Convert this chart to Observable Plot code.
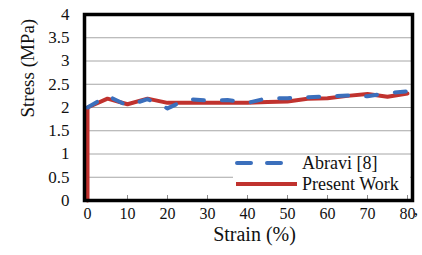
<!DOCTYPE html>
<html>
<head>
<meta charset="utf-8">
<script src="https://cdn.jsdelivr.net/npm/d3@7"></script>
<script src="https://cdn.jsdelivr.net/npm/@observablehq/plot@0.6"></script>
<style>
  html, body { margin: 0; padding: 0; background: white; }
  #wrap { position: relative; width: 422px; height: 255px; font-family: "Liberation Serif", serif; }
  #wrap svg, #wrap svg text { font-family: "Liberation Serif", serif; }
  #legend { position: absolute; left: 233px; top: 155px; width: 177px; height: 40px; background: white; }
  #legend span { position: absolute; font-size: 18px; line-height: 20px; white-space: nowrap; color: #111; }
  #legend svg { position: absolute; left: 0; top: 0; }
  #comma { position: absolute; left: 414px; top: 202px; font-size: 16px; line-height: 16px; }
</style>
</head>
<body>
<div id="wrap"></div>
<script>
// Strain (%) sample points
const strainA = [0, 5, 10, 15, 20, 25, 30, 35, 40, 45, 50, 55, 60, 65, 70, 75, 80];
const strainP = [0, 0, 5, 10, 15, 20, 25, 30, 35, 40, 45, 50, 55, 60, 65, 70, 75, 80];
// Stress (MPa) series
const abravi  = [2.00, 2.25, 2.04, 2.18, 1.98, 2.18, 2.15, 2.16, 2.10, 2.20, 2.20, 2.22, 2.24, 2.26, 2.24, 2.31, 2.35];
const present = [0, 2.00, 2.19, 2.07, 2.19, 2.10, 2.10, 2.10, 2.10, 2.10, 2.12, 2.13, 2.19, 2.20, 2.25, 2.29, 2.23, 2.30];
// Tick values
const xTicks = [0, 10, 20, 30, 40, 50, 60, 70, 80];
const yTicks = [0, 0.5, 1, 1.5, 2, 2.5, 3, 3.5, 4];
const seriesNames = ["Abravi [8]", "Present Work"];
const colors = ["#3b6fbc", "#c0322e"];

const toRows = (xs, vals) => xs.map((s, i) => ({s, v: vals[i]}));
const SERIF = '"Liberation Serif", serif';

const chart = Plot.plot({
  width: 422,
  height: 255,
  marginLeft: 84,
  marginRight: 10,
  marginTop: 14,
  marginBottom: 55,
  style: {background: "white", color: "#111", fontFamily: SERIF},
  x: {domain: [-0.75, 81.25]},
  y: {domain: [0, 4]},
  marks: [
    Plot.gridY(yTicks, {stroke: "#a6a6a6", strokeOpacity: 1, strokeWidth: 1}),
    Plot.axisY(yTicks, {tickSize: 0, tickPadding: 15, fontSize: 17, tickFormat: d => String(d), label: null}),
    Plot.axisX(xTicks, {tickSize: -5, stroke: "#8a8a8a", tickFormat: () => "", label: null}),
    Plot.axisX(xTicks, {tickSize: 0, tickPadding: 7, fontSize: 16, tickFormat: d => String(d), label: null}),
    Plot.line(toRows(strainP, present), {x: "s", y: "v", stroke: colors[1], strokeWidth: 4}),
    Plot.line(toRows(strainA, abravi), {x: "s", y: "v", stroke: colors[0], strokeWidth: 4, strokeDasharray: "11,18", strokeLinecap: "round"}),
    Plot.frame({stroke: "black", strokeWidth: 3.5}),
    Plot.text(["Strain (%)"], {text: d => d, frameAnchor: "bottom", dy: 40, dx: 6, fontSize: 20}),
    Plot.text(["Stress (MPa)"], {text: d => d, frameAnchor: "left", rotate: -90, dx: -57, dy: 10, fontSize: 19})
  ]
});
chart.querySelectorAll("text").forEach(el => el.setAttribute("font-family", SERIF));

const wrap = document.getElementById("wrap");
wrap.appendChild(chart);

const legend = document.createElement("div");
legend.id = "legend";
legend.innerHTML = `
  <svg width="177" height="40">
    <line x1="4" y1="8" x2="50" y2="8" stroke="${colors[0]}" stroke-width="4" stroke-linecap="round" stroke-dasharray="14,16"/>
    <line x1="3" y1="29" x2="64" y2="29" stroke="${colors[1]}" stroke-width="4"/>
  </svg>
  <span style="left:69px; top:-2px">${seriesNames[0]}</span>
  <span style="left:69px; top:19px">${seriesNames[1]}</span>`;
wrap.appendChild(legend);

const comma = document.createElement("span");
comma.id = "comma";
comma.textContent = ",";
wrap.appendChild(comma);
</script>
</body>
</html>
